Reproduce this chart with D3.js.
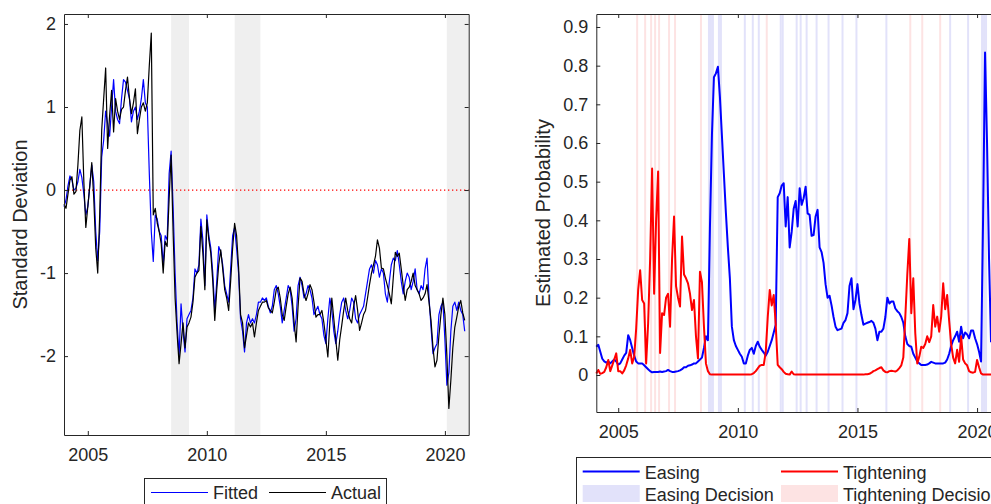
<!DOCTYPE html>
<html>
<head>
<meta charset="utf-8">
<script src="https://cdn.jsdelivr.net/npm/d3@7"></script>
<style>
  html, body { margin: 0; padding: 0; background: #fff; overflow: hidden; }
  svg { display: block; font-family: "Liberation Sans", Arial, sans-serif; }
</style>
</head>
<body>
<div id="chart"></div>
<script>
// ---- Left panel: monthly from Jan 2004 ----
const leftStart = 2004;
const actual = [
  -0.17,-0.22,-0.05,0.12,0.16,-0.05,-0.02,0.3,0.72,0.88,
  0.1,-0.45,-0.2,0.05,0.33,-0.1,-0.7,-1.0,-0.3,0.72,
  1.1,1.47,0.5,0.9,1.2,0.7,1.1,0.95,0.85,0.97,
  1.0,1.2,1.36,1.1,0.92,1.05,1.22,0.68,0.85,1.0,
  1.05,0.95,1.05,1.5,1.89,-0.3,-0.22,-0.4,-0.5,-0.65,
  -1.0,-0.62,-0.68,-0.1,0.42,-0.5,-1.3,-1.72,-2.09,-1.85,
  -1.6,-1.9,-1.65,-1.6,-1.53,-1.35,-1.05,-1.0,-0.97,-0.44,
  -0.76,-1.2,-0.36,-0.6,-0.76,-1.1,-1.57,-1.2,-0.9,-0.72,
  -0.95,-1.2,-1.3,-1.45,-1.1,-0.7,-0.4,-0.55,-0.93,-1.5,
  -1.6,-1.9,-1.75,-1.6,-1.65,-1.6,-1.77,-1.6,-1.45,-1.4,
  -1.35,-1.35,-1.33,-1.42,-1.45,-1.48,-1.35,-1.2,-1.17,-1.3,
  -1.5,-1.57,-1.4,-1.25,-1.17,-1.3,-1.6,-1.83,-1.4,-1.06,
  -1.1,-1.25,-1.33,-1.25,-1.14,-1.2,-1.35,-1.53,-1.5,-1.5,
  -1.45,-1.6,-1.8,-2.01,-1.6,-1.3,-1.55,-1.8,-2.05,-1.8,
  -1.63,-1.45,-1.3,-1.45,-1.55,-1.6,-1.4,-1.27,-1.45,-1.69,
  -1.6,-1.5,-1.45,-1.3,-1.14,-1.0,-0.9,-0.8,-0.6,-0.7,
  -0.94,-0.95,-1.06,-1.15,-1.25,-1.37,-1.05,-0.75,-0.8,-0.76,
  -0.95,-1.15,-1.33,-1.2,-1.17,-1.1,-1.0,-1.15,-1.2,-1.25,
  -1.33,-1.3,-1.25,-1.14,-1.35,-1.57,-1.9,-2.13,-2.05,-1.75,
  -1.5,-1.3,-1.5,-2.0,-2.63,-2.29,-1.9,-1.65,-1.53,-1.4,
  -1.33,-1.48,-1.57
];
const fitted = [
  -0.2,-0.12,0.05,0.17,0.12,0.0,0.02,0.1,0.25,0.15,
  -0.05,-0.3,-0.2,0.05,0.3,0.1,-0.5,-0.85,-0.5,0.4,
  0.6,0.95,0.8,0.65,1.0,1.33,0.95,0.85,0.8,1.1,
  1.33,1.3,1.2,1.1,0.82,0.95,1.0,0.85,0.95,1.1,
  1.33,1.05,1.0,0.2,-0.5,-0.86,-0.3,-0.35,-0.5,-0.55,
  -0.9,-0.55,-0.6,0.2,0.47,-0.2,-1.0,-1.6,-2.0,-1.37,
  -1.7,-1.95,-1.55,-1.5,-1.45,-1.3,-0.95,-1.0,-0.9,-0.35,
  -0.6,-1.15,-0.3,-0.55,-0.7,-1.0,-1.45,-1.1,-0.68,-0.75,
  -0.9,-1.15,-1.25,-1.35,-0.95,-0.55,-0.45,-0.7,-1.0,-1.55,
  -1.7,-1.95,-1.6,-1.5,-1.6,-1.55,-1.6,-1.5,-1.35,-1.35,
  -1.3,-1.33,-1.3,-1.4,-1.48,-1.4,-1.2,-1.15,-1.25,-1.4,
  -1.6,-1.45,-1.3,-1.15,-1.2,-1.4,-1.7,-1.55,-1.15,-1.05,
  -1.15,-1.3,-1.25,-1.15,-1.2,-1.3,-1.5,-1.45,-1.4,-1.5,
  -1.55,-1.75,-1.85,-1.55,-1.3,-1.45,-1.7,-1.85,-1.7,-1.5,
  -1.35,-1.3,-1.45,-1.55,-1.45,-1.3,-1.35,-1.55,-1.6,-1.5,
  -1.45,-1.4,-1.25,-1.1,-0.95,-0.9,-1.0,-0.85,-0.9,-1.05,
  -0.95,-1.0,-1.25,-1.35,-1.1,-0.9,-0.82,-0.85,-0.73,-0.9,
  -1.1,-1.25,-1.1,-1.0,-1.05,-1.2,-1.1,-0.95,-1.2,-1.25,
  -1.15,-1.2,-0.95,-0.82,-1.3,-1.65,-1.97,-1.9,-1.85,-1.5,
  -1.4,-1.35,-1.8,-2.35,-2.2,-1.7,-1.4,-1.35,-1.45,-1.35,
  -1.45,-1.5,-1.7
];
const shaded = [[2008.5, 2009.25], [2011.17, 2012.25], [2020.08, 2021]];
const leftYTicks = [-2, -1, 0, 1, 2];

// ---- Right panel: monthly from Feb 2004 ----
const rightStart = 2004 + 1 / 12;
const easing = [
  0.073,0.078,0.06,0.042,0.035,0.032,0.035,0.03,0.035,0.04,
  0.035,0.027,0.03,0.04,0.05,0.057,0.103,0.09,0.07,0.05,
  0.035,0.03,0.03,0.03,0.025,0.02,0.015,0.01,0.007,0.008,
  0.008,0.008,0.009,0.008,0.009,0.01,0.013,0.01,0.008,0.008,
  0.009,0.01,0.012,0.015,0.02,0.02,0.024,0.025,0.027,0.03,
  0.03,0.035,0.04,0.045,0.07,0.1,0.09,0.38,0.62,0.77,
  0.78,0.797,0.72,0.62,0.52,0.42,0.33,0.25,0.125,0.09,
  0.075,0.065,0.055,0.047,0.03,0.03,0.05,0.065,0.07,0.055,
  0.075,0.086,0.073,0.065,0.058,0.05,0.06,0.075,0.09,0.11,
  0.13,0.46,0.47,0.49,0.496,0.384,0.46,0.33,0.37,0.43,
  0.45,0.384,0.483,0.44,0.457,0.487,0.418,0.414,0.36,0.362,
  0.41,0.427,0.33,0.318,0.29,0.235,0.2,0.205,0.18,0.15,
  0.125,0.116,0.118,0.12,0.135,0.142,0.16,0.23,0.25,0.17,
  0.194,0.235,0.185,0.155,0.13,0.133,0.135,0.137,0.14,0.135,
  0.12,0.09,0.112,0.112,0.12,0.15,0.2,0.185,0.19,0.19,
  0.172,0.165,0.16,0.15,0.135,0.1,0.08,0.075,0.073,0.055,
  0.045,0.035,0.03,0.026,0.026,0.026,0.027,0.03,0.034,0.032,
  0.03,0.03,0.03,0.03,0.03,0.032,0.04,0.055,0.075,0.09,
  0.1,0.112,0.086,0.125,0.095,0.11,0.105,0.095,0.115,0.115,
  0.095,0.08,0.06,0.035,0.4,0.834,0.6,0.3,0.085
];
const tightening = [
  0.004,0.013,0.003,0.005,0.008,0.02,0.039,0.01,0.025,0.04,
  0.056,0.01,0.01,0.004,0.012,0.025,0.043,0.065,0.03,0.047,
  0.12,0.22,0.271,0.194,0.185,0.03,0.134,0.3,0.534,0.21,
  0.4,0.526,0.057,0.16,0.155,0.2,0.21,0.125,0.3,0.41,
  0.23,0.2,0.177,0.358,0.26,0.25,0.237,0.21,0.168,0.194,
  0.1,0.043,0.267,0.24,0.125,0.03,0.01,0.002,0.001,0.001,
  0.001,0.001,0.001,0.001,0.001,0.001,0.001,0.001,0.001,0.001,
  0.001,0.001,0.001,0.001,0.001,0.001,0.001,0.001,0.002,0.005,
  0.01,0.017,0.024,0.026,0.026,0.06,0.15,0.22,0.18,0.207,
  0.13,0.026,0.02,0.015,0.008,0.003,0.002,0.001,0.009,0.002,
  0.001,0.001,0.001,0.001,0.001,0.001,0.001,0.001,0.001,0.001,
  0.001,0.001,0.001,0.001,0.001,0.001,0.001,0.001,0.001,0.001,
  0.001,0.001,0.001,0.001,0.001,0.001,0.001,0.001,0.001,0.001,
  0.001,0.001,0.001,0.001,0.001,0.002,0.002,0.003,0.006,0.01,
  0.012,0.015,0.018,0.02,0.012,0.008,0.007,0.01,0.011,0.01,
  0.009,0.012,0.018,0.025,0.045,0.15,0.26,0.352,0.16,0.25,
  0.108,0.03,0.047,0.073,0.07,0.08,0.1,0.085,0.1,0.181,
  0.125,0.151,0.112,0.151,0.237,0.17,0.207,0.14,0.08,0.045,
  0.03,0.065,0.034,0.1,0.04,0.03,0.025,0.01,0.007,0.006,
  0.008,0.039,0.02,0.004,0.001,0.001,0.001,0.001,0.001
];
const easingDecisions = [
  "2008-10","2008-11","2008-12","2009-03","2009-04","2010-04","2010-08","2010-11",
  "2011-10","2011-11","2012-06","2012-08","2012-11","2013-04","2013-10","2014-05",
  "2014-12","2016-03","2018-11","2019-08","2020-03","2020-04","2020-05"
];
const tighteningDecisions = [
  "2005-10","2006-02","2006-05","2006-07","2006-09","2007-02","2007-05","2008-06",
  "2011-03","2017-03","2017-09","2018-06"
];
const rightYTicks = [0, 0.1, 0.2, 0.3, 0.4, 0.5, 0.6, 0.7, 0.8, 0.9];
const yearTicks = [2005, 2010, 2015, 2020];

const axisColor = "#262626";
const parseMonth = s => { const [yy, mm] = s.split("-").map(Number); return yy + (mm - 1) / 12; };

const svg = d3.select("#chart").append("svg")
  .attr("width", 1010)
  .attr("height", 504);

// ticks inside on all four sides, labels only bottom/left
function drawAxes(g, x, y, yFmt) {
  const [x0, x1] = x.range(), [y0, y1] = y.range();
  const yTicks = y.ticksList;
  const parts = [
    g.append("g").attr("transform", `translate(0,${y0})`)
      .call(d3.axisBottom(x).tickValues(yearTicks).tickSize(-4).tickSizeOuter(0)
        .tickPadding(13).tickFormat(d => String(d))),
    g.append("g").attr("transform", `translate(0,${y1})`)
      .call(d3.axisTop(x).tickValues(yearTicks).tickSize(-4).tickSizeOuter(0).tickFormat("")),
    g.append("g").attr("transform", `translate(${x0},0)`)
      .call(d3.axisLeft(y).tickValues(yTicks).tickSize(-4).tickSizeOuter(0)
        .tickPadding(8).tickFormat(yFmt)),
    g.append("g").attr("transform", `translate(${x1},0)`)
      .call(d3.axisRight(y).tickValues(yTicks).tickSize(-4).tickSizeOuter(0).tickFormat(""))
  ];
  parts.forEach(p => {
    p.attr("font-size", null).attr("font-family", null);
    p.select(".domain").attr("stroke", axisColor);
    p.selectAll(".tick line").attr("stroke", axisColor);
    p.selectAll(".tick text").style("font-size", "18px").attr("fill", axisColor);
  });
}

function drawLeft() {
  const x = d3.scaleLinear().domain([2004, 2021]).range([64, 468.7]);
  const y = d3.scaleLinear().domain([-2.95, 2.12]).range([435, 14]);
  y.ticksList = leftYTicks;
  const g = svg.append("g");

  // shaded periods
  g.selectAll("rect.shade").data(shaded).join("rect")
    .attr("class", "shade")
    .attr("x", d => x(d[0]))
    .attr("width", d => x(d[1]) - x(d[0]))
    .attr("y", 14).attr("height", 421)
    .attr("fill", "#efefef");

  // zero reference
  g.append("line")
    .attr("x1", x(2004)).attr("x2", x(2021))
    .attr("y1", y(0)).attr("y2", y(0))
    .attr("stroke", "#ff0000").attr("stroke-width", 1.2)
    .attr("stroke-dasharray", "1.3 2.7");

  const line = d3.line()
    .x((d, i) => x(leftStart + i / 12))
    .y(d => y(d));

  g.append("path").datum(fitted)
    .attr("fill", "none").attr("stroke", "#0000ff")
    .attr("stroke-width", 1.2).attr("stroke-linejoin", "round")
    .attr("d", line);
  g.append("path").datum(actual)
    .attr("fill", "none").attr("stroke", "#000000")
    .attr("stroke-width", 1.2).attr("stroke-linejoin", "round")
    .attr("d", line);

  drawAxes(g, x, y, d => String(d));

  g.append("text")
    .attr("transform", "translate(20,224.5) rotate(-90)")
    .attr("dy", "0.35em")
    .attr("text-anchor", "middle")
    .style("font-size", "20px")
    .attr("fill", axisColor)
    .text("Standard Deviation");

  // legend
  const lg = g.append("g");
  lg.append("rect")
    .attr("x", 144.5).attr("y", 478.5).attr("width", 242).attr("height", 30)
    .attr("fill", "#fff").attr("stroke", axisColor);
  [["Fitted", "#0000ff", 151], ["Actual", "#000000", 269]].forEach(([name, col, lx]) => {
    lg.append("line").attr("x1", lx).attr("x2", lx + 57)
      .attr("y1", 492.5).attr("y2", 492.5)
      .attr("stroke", col).attr("stroke-width", 1.2);
    lg.append("text").attr("x", lx + 62).attr("y", 499)
      .style("font-size", "18px").attr("fill", axisColor).text(name);
  });
}

function drawRight() {
  const x = d3.scaleLinear().domain([rightStart, 2021]).range([596.3, 1001]);
  const y = d3.scaleLinear().domain([-0.0957, 0.9336]).range([412, 14]);
  y.ticksList = rightYTicks;
  const g = svg.append("g");

  // decision bands
  const bands = [
    ...easingDecisions.map(s => ({ t: parseMonth(s), fill: "#e2e2fa" })),
    ...tighteningDecisions.map(s => ({ t: parseMonth(s), fill: "#fde3e3" }))
  ];
  g.selectAll("rect.band").data(bands).join("rect")
    .attr("class", "band")
    .attr("x", d => x(d.t))
    .attr("width", d => x(d.t + 1 / 12) - x(d.t))
    .attr("y", 14).attr("height", 398)
    .attr("fill", d => d.fill);

  const line = d3.line()
    .x((d, i) => x(rightStart + i / 12))
    .y(d => y(d));

  g.append("path").datum(easing)
    .attr("fill", "none").attr("stroke", "#0000ff")
    .attr("stroke-width", 2).attr("stroke-linejoin", "round")
    .attr("d", line);
  g.append("path").datum(tightening)
    .attr("fill", "none").attr("stroke", "#ff0000")
    .attr("stroke-width", 2).attr("stroke-linejoin", "round")
    .attr("d", line);

  drawAxes(g, x, y, d => String(+d.toFixed(1)));

  g.append("text")
    .attr("transform", "translate(542.5,213) rotate(-90)")
    .attr("dy", "0.35em")
    .attr("text-anchor", "middle")
    .style("font-size", "20px")
    .attr("fill", axisColor)
    .text("Estimated Probability");

  // legend
  const lg = g.append("g");
  lg.append("rect")
    .attr("x", 576.5).attr("y", 457.5).attr("width", 480).attr("height", 60)
    .attr("fill", "#fff").attr("stroke", axisColor);
  const items = [
    { name: "Easing", col: "#0000ff", kind: "line", lx: 582.7, ly: 471.5 },
    { name: "Tightening", col: "#ff0000", kind: "line", lx: 781, ly: 471.5 },
    { name: "Easing Decision", col: "#e2e2fa", kind: "patch", lx: 582.7, ly: 493.5 },
    { name: "Tightening Decision", col: "#fde3e3", kind: "patch", lx: 781, ly: 493.5 }
  ];
  items.forEach(it => {
    if (it.kind === "line") {
      lg.append("line").attr("x1", it.lx).attr("x2", it.lx + 57)
        .attr("y1", it.ly).attr("y2", it.ly)
        .attr("stroke", it.col).attr("stroke-width", 2);
    } else {
      lg.append("rect").attr("x", it.lx).attr("y", it.ly - 8.5)
        .attr("width", 57).attr("height", 17).attr("fill", it.col);
    }
    lg.append("text").attr("x", it.lx + 62).attr("y", it.ly + 7.5)
      .style("font-size", "18px").attr("fill", axisColor).text(it.name);
  });
}

drawLeft();
drawRight();
</script>
</body>
</html>
